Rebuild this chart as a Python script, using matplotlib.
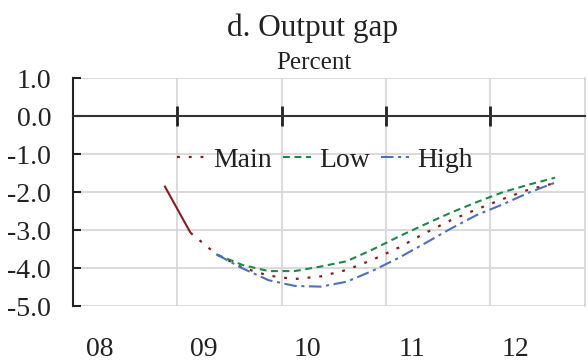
import matplotlib.pyplot as plt
import matplotlib.transforms as mtransforms

# quarterly index: 0 = 2008Q1 ... 18 = 2012Q3
years = ["08", "09", "10", "11", "12"]
y_ticks = [1, 0, -1, -2, -3, -4, -5]
y_labels = ["1.0", "0.0", "-1.0", "-2.0", "-3.0", "-4.0", "-5.0"]

hist_q = [3, 4]
hist = [-1.83, -3.07]

main_q = list(range(4, 19))
main = [-3.07, -3.64, -3.99, -4.20, -4.29, -4.22, -4.05, -3.78, -3.46,
        -3.08, -2.74, -2.45, -2.18, -1.93, -1.76]

band_q = list(range(5, 19))
low = [-3.64, -3.92, -4.08, -4.08, -3.96, -3.82, -3.51, -3.17, -2.85,
       -2.54, -2.26, -2.00, -1.80, -1.62]
high = [-3.64, -4.01, -4.32, -4.47, -4.49, -4.36, -4.07, -3.73, -3.35,
        -2.96, -2.60, -2.32, -2.01, -1.75]

plt.rcParams['font.family'] = ['Liberation Serif', 'DejaVu Serif']

W, H = 588, 363
fig = plt.figure(figsize=(W / 100, H / 100), dpi=100)
ax = fig.add_axes([73.3 / W, 1 - 306 / H, (585 - 73.3) / W, (306 - 78.3) / H])

red = '#8B1A1A'
green = '#1A8A48'
blue = '#4A70C2'
grid = '#D4D4D4'

ax.plot(hist_q, hist, color=red, lw=1.5, solid_capstyle='butt')
ax.plot(main_q, main, color=red, lw=1.6, linestyle=(0, (1.3, 4.0)), label='Main')
ax.plot(band_q, low, color=green, lw=1.5, linestyle=(0, (3.3, 2.2)), label='Low')
ax.plot(band_q, high, color=blue, lw=1.5, linestyle=(0, (6, 2.2, 1.5, 2.2)), label='High')

ax.set_xlim(-0.5, -0.5 + (585 - 73.3) / 26.04)
ax.set_ylim(-5, 1)

# horizontal gridlines
ax.set_yticks(y_ticks)
ax.set_yticklabels(y_labels, fontsize=20, color='#222222')
ax.tick_params(axis='y', direction='in', length=6, width=1.5, color='#222222', pad=16)
ax.yaxis.grid(True, color=grid, lw=1.2)

# year boundaries: vertical gridlines + crossing ticks on the zero line
bounds = [3.5 + 4 * i for i in range(len(years) - 1)]
ax.set_xticks(bounds)
ax.set_xticklabels([])
ax.xaxis.grid(True, color=grid, lw=1.2)
ax.spines['bottom'].set_position(('data', 0))
ax.spines['bottom'].set_color('#333333')
ax.spines['bottom'].set_linewidth(1.5)
ax.tick_params(axis='x', direction='inout', length=14, width=2, color='#222222')
ax.set_axisbelow(True)

ax.spines['left'].set_color('#222222')
ax.spines['left'].set_linewidth(1.5)
ax.spines['top'].set_visible(False)
ax.spines['right'].set_color(grid)
ax.spines['right'].set_linewidth(1.2)

trans = mtransforms.blended_transform_factory(ax.transData, fig.transFigure)
for i, yr in enumerate(years):
    ax.text(0.5 + 4 * i, 1 - 356 / H, yr, transform=trans, ha='center',
            va='baseline', fontsize=20, color='#222222')

fig.text(313 / W, 1 - 36 / H, "d. Output gap", ha='center', va='baseline', fontsize=22.5,
         color='#222222')
fig.text(314 / W, 1 - 69 / H, "Percent", ha='center', va='baseline', fontsize=18,
         color='#222222')

fig.legend(loc='center', bbox_to_anchor=(325 / W, 1 - 160 / H), ncol=3, frameon=False,
           fontsize=20, handlelength=1.0, handletextpad=0.3, columnspacing=0.4,
           borderpad=0, labelcolor='#222222')

fig.savefig('out.png', dpi=100)
